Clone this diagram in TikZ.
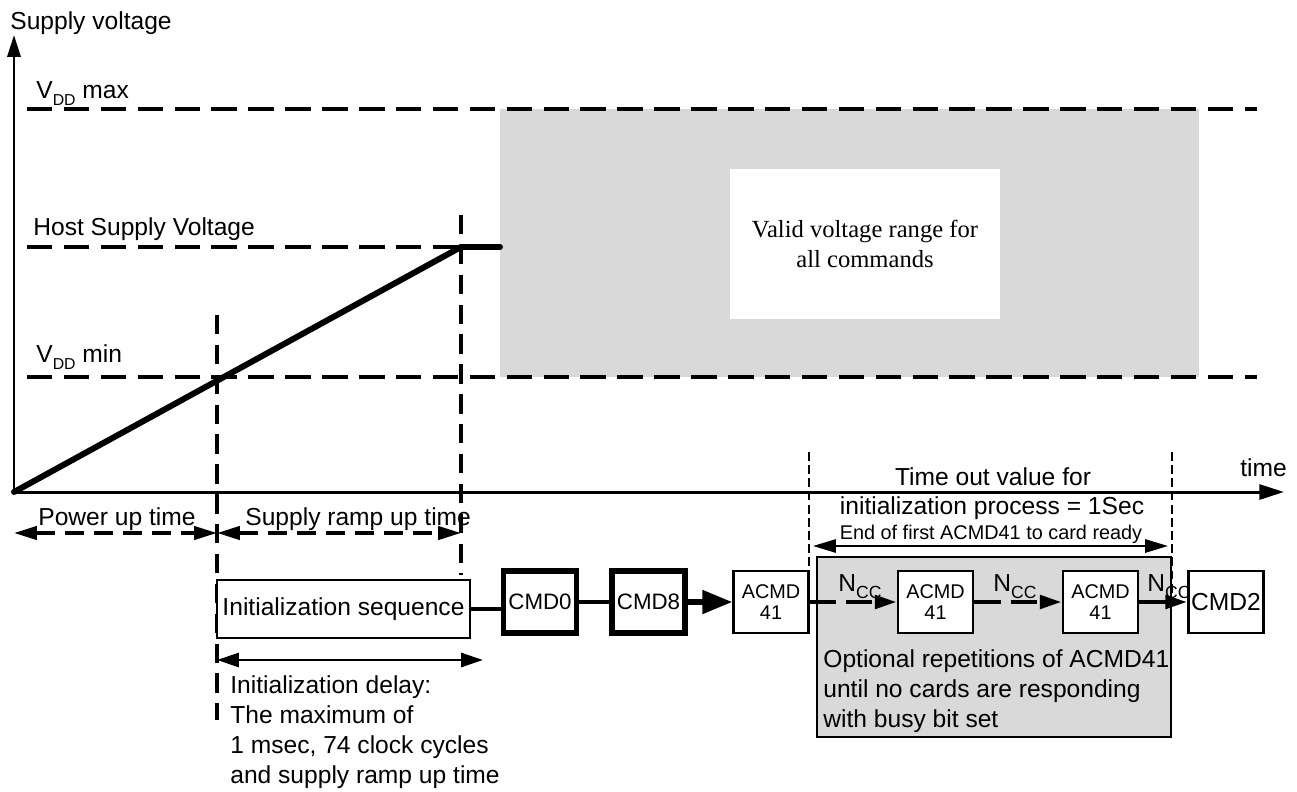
\documentclass[tikz,border=0pt]{standalone}
\usepackage{fontspec}
\setmainfont{Liberation Sans}
\newfontfamily\timesfont{Liberation Serif}
\usetikzlibrary{arrows.meta,calc}
\definecolor{panelgray}{HTML}{D9D9D9}
\newcommand{\ncclabel}{{\fontsize{14}{16}\selectfont N}\raisebox{-4pt}{\fontsize{10}{11}\selectfont CC}}
\newcommand{\vddsub}{\raisebox{-4pt}{\fontsize{9}{10}\selectfont DD}}
\begin{document}
\begin{tikzpicture}[x=0.02cm,y=-0.02cm,
  lbl/.style={font=\fontsize{14}{17}\selectfont, inner sep=0pt, anchor=base west},
  clbl/.style={font=\fontsize{14}{17}\selectfont, inner sep=0pt, anchor=base},
  hdash/.style={line width=2.2pt, dash pattern=on 14.5pt off 6.5pt},
  vdash/.style={line width=2.2pt, dash pattern=on 11pt off 6pt},
  dimdash/.style={line width=2pt, dash pattern=on 11pt off 5.5pt},
  thindash/.style={line width=0.9pt, dash pattern=on 5pt off 2.5pt},
  axisline/.style={line width=1.7pt},
  thickbox/.style={draw, line width=3pt, fill=white, minimum width=1.46cm, minimum height=1.24cm, inner sep=0pt, font=\fontsize{12.7}{15}\selectfont},
  thinbox/.style={draw, line width=1.4pt, fill=white, minimum width=1.5cm, minimum height=1.24cm, inner sep=0pt, align=center, font=\fontsize{11.3}{12}\selectfont},
  conn/.style={line width=2.6pt},
  dimtip/.style={{Triangle[length=13pt,width=7.5pt]}-{Triangle[length=13pt,width=7.5pt]}},
  smalltip/.style={-{Triangle[length=12.5pt,width=7.5pt]}},
]
\useasboundingbox (0,0) rectangle (1297,791);
% valid voltage region
\fill[panelgray] (500,109) rectangle (1199,377);
\node[fill=white, minimum width=5.4cm, minimum height=3cm, inner sep=0pt] (valid) at (865,244) {};
\node[font=\timesfont\fontsize{14}{17}\selectfont, inner sep=0pt, anchor=base] (valid1) at (865,237) {Valid voltage range for};
\node[font=\timesfont\fontsize{14}{17}\selectfont, inner sep=0pt, anchor=base] (valid2) at (865,267) {all commands};
% axes
\coordinate (O) at (14,492);
\coordinate (ytop) at (14,35);
\coordinate (tend) at (1284,492);
\draw[axisline, -{Triangle[length=12.5pt,width=7.5pt]}] (O) -- (ytop);
\draw[axisline, -{Triangle[length=14pt,width=8.5pt]}] (O) -- (tend);
\node[lbl] (tlabel) at (1240,476) {time};
\node[lbl] (sv) at (10,30) {Supply voltage};
% level lines
\coordinate (maxL) at (27,109); \coordinate (maxR) at (1257,109);
\coordinate (minL) at (27,377); \coordinate (minR) at (1257,377);
\coordinate (hostL) at (27,247);
\coordinate (H) at (461,247); \coordinate (G) at (500,247);
\draw[hdash] (maxL) -- (maxR);
\draw[hdash] (minL) -- (minR);
\draw[hdash] (hostL) -- (H);
\node[lbl] (vmax) at (36,98) {V\vddsub\ max};
\node[lbl] (host) at (33,235) {Host Supply Voltage};
\node[lbl] (vmin) at (36,362) {V\vddsub\ min};
% ramp
\draw[line width=3.4pt, line cap=round, line join=miter] (O) -- (H) -- (G);
% vertical dashed markers
\coordinate (m1t) at (217,315); \coordinate (m1b) at (217,720);
\coordinate (m2t) at (461,215); \coordinate (m2b) at (461,575);
\draw[vdash] (m1t) -- (m1b);
\draw[vdash] (m2t) -- (m2b);
% time spans
\coordinate (p0) at (14,533); \coordinate (p1) at (217,533); \coordinate (p2) at (461,533);
\draw[dimdash, dimtip] (p0) -- (p1);
\draw[dimdash, dimtip] (p1) -- (p2);
\node[lbl] (pwr) at (38,525) {Power up time};
\node[lbl] (ramp) at (245,525) {Supply ramp up time};
% time-out markers
\coordinate (to1t) at (809,452); \coordinate (to1b) at (809,570);
\coordinate (to2t) at (1172,452); \coordinate (to2b) at (1172,600);
\draw[thindash] (to1t) -- (to1b);
\draw[thindash] (to2t) -- (to2b);
\node[clbl] (to1) at (993,485) {Time out value for};
\node[clbl] (to2) at (992,514) {initialization process = 1Sec};
\node[font=\fontsize{11.3}{13}\selectfont, inner sep=0pt, anchor=base] (to3) at (991,539) {End of first ACMD41 to card ready};
\coordinate (da) at (813,546); \coordinate (db) at (1168,546);
\draw[line width=1.3pt, dimtip] (da) -- (db);
% repetitions box
\node[draw, line width=1.4pt, fill=panelgray, minimum width=7.08cm, minimum height=3.6cm, inner sep=0pt] (rep) at (994,647) {};
\node[lbl] (rep1) at (823,667) {Optional repetitions of ACMD41};
\node[lbl] (rep2) at (823,697) {until no cards are responding};
\node[lbl] (rep3) at (823,727) {with busy bit set};
% command sequence
\node[draw, line width=1.4pt, fill=white, minimum width=5.06cm, minimum height=1.16cm, inner sep=0pt, font=\fontsize{14}{17}\selectfont] (init) at (343.5,609) {Initialization sequence};
\node[thickbox] (cmd0) at (540,602) {CMD0};
\node[thickbox] (cmd8) at (648.5,602) {CMD8};
\node[thinbox] (acmd1) at (771,602) {ACMD\\41};
\node[thinbox] (acmd2) at (935.5,602) {ACMD\\41};
\node[thinbox] (acmd3) at (1100.5,602) {ACMD\\41};
\node[thinbox, font=\fontsize{14}{17}\selectfont] (cmd2) at (1226,602) {CMD2};
\draw[conn] (init.east) -- (init.east -| cmd0.west);
\draw[conn] (cmd0.east) -- (cmd8.west);
\draw[line width=3pt, -{Triangle[length=17pt,width=13pt]}] (cmd8.east) -- (acmd1.west);
\draw[conn, dash pattern=on 15pt off 5.7pt, smalltip] (acmd1.east) -- (acmd2.west);
\draw[conn, dash pattern=on 15pt off 5.7pt, smalltip] (acmd2.east) -- (acmd3.west);
\draw[conn, smalltip] (acmd3.east) -- (cmd2.west);
\node[inner sep=0pt, anchor=base west] (n1) at (838,591) {\ncclabel};
\node[inner sep=0pt, anchor=base west] (n2) at (993,591) {\ncclabel};
\node[inner sep=0pt, anchor=base west] (n3) at (1147,591) {\ncclabel};
% initialization delay
\coordinate (ia) at (217,660); \coordinate (ib) at (483,660);
\draw[line width=1.6pt, {Triangle[length=12.5pt,width=8pt]}-{Triangle[length=12.5pt,width=8pt]}] (ia) -- (ib);
\node[lbl] (d1) at (230,693) {Initialization delay:};
\node[lbl] (d2) at (230,723) {The maximum of};
\node[lbl] (d3) at (230,753) {1 msec, 74 clock cycles};
\node[lbl] (d4) at (230,783) {and supply ramp up time};
\end{tikzpicture}
\end{document}
